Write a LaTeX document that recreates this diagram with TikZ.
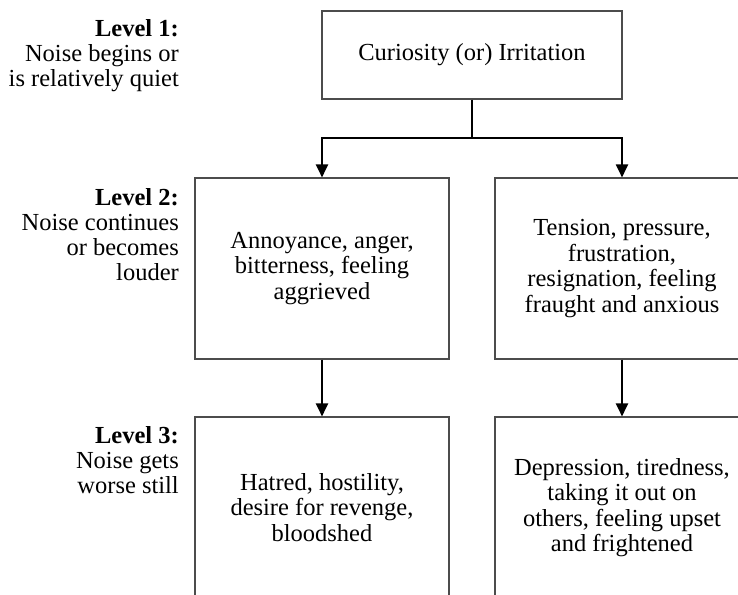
\documentclass[tikz,border=0pt]{standalone}
\usepackage{fontspec}
\setmainfont{Liberation Serif}
\usetikzlibrary{arrows.meta}
\begin{document}
\begin{tikzpicture}[x=1pt,y=-1pt,
  box/.style={draw=black!70, line width=1.1pt, align=center, inner sep=0pt,
    font=\fontsize{24.5}{25.5}\selectfont},
  lvl/.style={anchor=north east, align=right, inner sep=0pt,
    font=\fontsize{24.5}{25}\selectfont},
  conn/.style={line width=2pt, black},
  arr/.style={conn, -{Triangle[length=13pt,width=12pt]}}]
\useasboundingbox (0,0) rectangle (738,594);
% level labels
\node[lvl] (lv1) at (179,19) {\textbf{Level 1:}\\Noise begins or\\is relatively quiet};
\node[lvl] (lv2) at (179,188) {\textbf{Level 2:}\\Noise continues\\or becomes\\louder};
\node[lvl] (lv3) at (179,426) {\textbf{Level 3:}\\Noise gets\\worse still};
% boxes
\node[box, minimum width=300pt, minimum height=88pt] (top) at (472,55) {Curiosity (or) Irritation};
\node[box, minimum width=254pt, minimum height=181pt] (l2l) at (322,268.5) {Annoyance, anger,\\bitterness, feeling\\aggrieved};
\node[box, minimum width=254pt, minimum height=181pt] (l2r) at (622,268.5) {Tension, pressure,\\frustration,\\resignation, feeling\\fraught and anxious};
\node[box, minimum width=254pt, minimum height=181pt] (l3l) at (322,507.5) {Hatred, hostility,\\desire for revenge,\\bloodshed};
\node[box, minimum width=254pt, minimum height=181pt] (l3r) at (622,507.5) {Depression, tiredness,\\taking it out on\\others, feeling upset\\and frightened};
% connectors
\coordinate (split) at (472,138);
\draw[conn] (top.south) -- (split);
\draw[arr] (split) -| (l2l.north);
\draw[arr] (split) -| (l2r.north);
\draw[arr] (l2l.south) -- (l3l.north);
\draw[arr] (l2r.south) -- (l3r.north);
\end{tikzpicture}
\end{document}
